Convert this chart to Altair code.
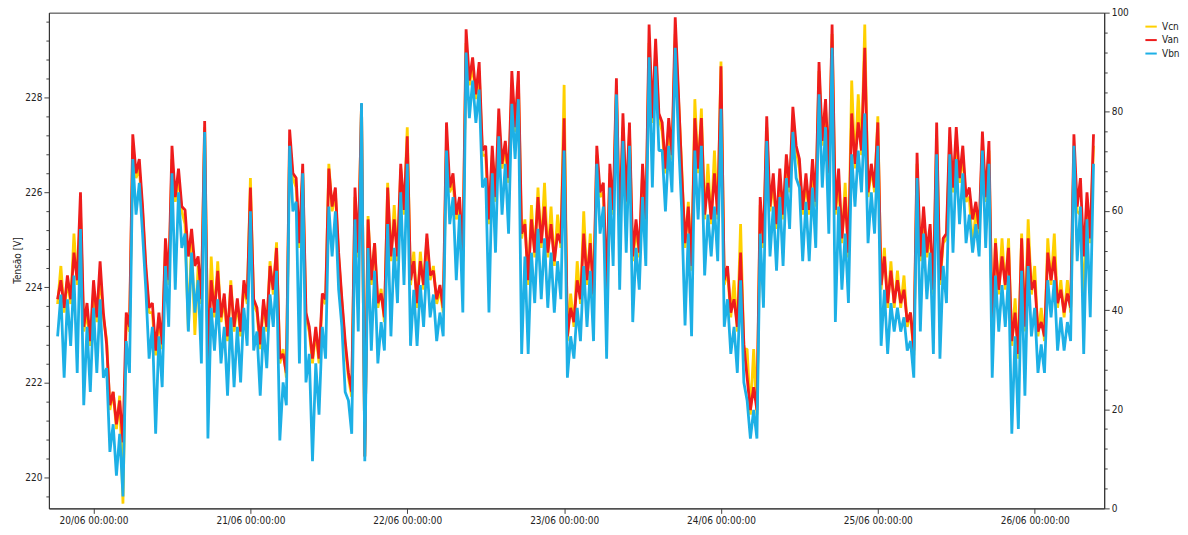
import altair as alt
import pandas as pd

# half-hour samples from 19/06 18:30 to 26/06 09:00, alternating local peak / trough
vcn = [
    223.65, 224.45, 223.47, 224.15, 223.65, 225.13, 224.05, 225.6, 223.07, 223.47, 222.77, 223.95, 223.27, 224.25, 223.37, 222.9, 221.42, 221.8, 221.02, 221.72,
    219.45, 223.37, 223.07, 226.98, 226.3, 226.5, 225.6, 224.35, 223.47, 223.47, 222.57, 223.37, 222.7, 224.85, 224.05, 226.7, 225.8, 226.3, 225.6, 225.33,
    223.1, 225.03, 223.0, 224.45, 223.65, 227.37, 222.3, 224.65, 223.37, 224.55, 223.27, 223.75, 222.87, 224.15, 223.07, 223.67, 222.97, 224.05, 223.65, 226.3,
    223.65, 223.47, 222.7, 223.67, 223.07, 224.55, 223.85, 224.95, 222.4, 222.7, 222.1, 227.08, 226.3, 226.1, 224.83, 226.4, 223.37, 223.07, 222.4, 223.07,
    222.4, 223.77, 223.65, 226.6, 225.6, 226.0, 224.63, 223.67, 222.77, 222.1, 221.7, 225.9, 224.63, 227.86, 220.44, 225.5, 224.05, 224.93, 223.57, 223.97,
    223.27, 226.2, 224.55, 225.73, 224.55, 226.5, 225.53, 227.37, 224.05, 224.75, 223.57, 224.75, 223.95, 225.03, 224.15, 224.45, 223.65, 223.95, 223.47, 227.08,
    226.0, 226.2, 225.43, 225.7, 224.55, 229.14, 228.25, 228.65, 227.96, 228.55, 226.78, 226.78, 225.33, 226.78, 225.8, 227.47, 226.5, 226.9, 226.2, 228.26,
    227.27, 228.36, 225.03, 225.43, 224.05, 225.73, 224.63, 226.1, 224.83, 226.2, 224.63, 225.7, 224.45, 225.53, 224.83, 228.26, 222.87, 223.87, 223.17, 224.55,
    223.65, 225.6, 224.05, 225.13, 223.75, 226.78, 225.9, 226.0, 223.85, 226.4, 225.53, 228.16, 225.03, 227.37, 225.7, 227.28, 224.55, 225.23, 224.63, 226.4,
    225.33, 229.14, 227.46, 228.94, 227.56, 227.28, 226.4, 227.37, 226.68, 229.33, 227.96, 226.5, 224.83, 225.8, 224.35, 227.96, 226.4, 227.76, 225.43, 226.6,
    225.33, 226.88, 225.43, 228.75, 224.05, 224.35, 223.37, 224.15, 223.07, 225.33, 222.7, 222.7, 221.32, 222.7, 221.32, 225.73, 224.83, 227.37, 225.6, 226.2,
    225.23, 226.3, 225.43, 226.6, 226.0, 227.56, 226.88, 226.5, 225.53, 226.2, 225.53, 226.5, 225.7, 228.55, 226.98, 227.76, 226.3, 229.33, 225.53, 226.2,
    224.93, 226.2, 224.63, 228.35, 226.5, 228.06, 226.78, 229.53, 225.9, 226.5, 226.0, 227.6, 223.95, 224.83, 223.57, 224.55, 223.57, 224.35, 223.57, 224.25,
    223.17, 223.47, 222.57, 226.6, 224.55, 225.53, 224.63, 225.13, 223.85, 227.18, 224.05, 224.93, 225.03, 227.08, 226.0, 227.08, 226.2, 226.78, 225.8, 225.9,
    224.8, 225.63, 225.13, 227.08, 225.8, 226.88, 223.07, 225.03, 223.85, 225.03, 223.95, 225.03, 222.77, 223.77, 222.5, 225.13, 223.07, 225.43, 223.85, 224.45,
    222.97, 223.57, 222.87, 225.03, 224.05, 225.13, 223.57, 224.15, 223.37, 224.15, 223.47, 226.7, 225.6, 225.53, 223.65, 225.7, 224.93, 226.98,
]
van = [
    223.75, 224.15, 223.57, 224.25, 223.75, 224.73, 224.15, 226.0, 223.17, 223.67, 222.87, 224.15, 223.37, 224.55, 223.47, 222.8, 221.52, 221.8, 221.12, 221.62,
    220.74, 223.47, 223.17, 227.22, 226.4, 226.7, 225.7, 224.45, 223.57, 223.67, 222.67, 223.47, 222.8, 225.03, 224.15, 226.98, 225.9, 226.5, 225.7, 225.63,
    224.65, 225.23, 224.45, 224.65, 223.75, 227.5, 222.4, 224.15, 223.47, 224.35, 223.37, 223.87, 222.97, 224.05, 223.17, 223.77, 223.07, 224.15, 223.75, 226.1,
    223.75, 223.57, 222.8, 223.75, 223.17, 224.45, 223.95, 224.83, 222.5, 222.6, 222.2, 227.32, 226.4, 226.3, 224.93, 226.6, 223.47, 223.17, 222.5, 223.17,
    222.5, 223.87, 223.75, 226.5, 225.7, 226.1, 224.73, 223.75, 222.87, 222.2, 221.8, 226.1, 224.73, 227.86, 220.44, 225.43, 224.15, 224.93, 223.67, 223.87,
    223.37, 226.1, 224.65, 225.43, 224.65, 226.6, 225.63, 227.18, 224.15, 224.55, 223.67, 224.55, 224.05, 225.13, 224.25, 224.35, 223.75, 224.05, 223.57, 227.47,
    226.1, 226.4, 225.53, 225.9, 224.65, 229.43, 228.35, 228.84, 228.06, 228.74, 226.88, 226.98, 225.43, 226.98, 225.9, 227.76, 226.6, 227.08, 226.3, 228.55,
    227.37, 228.55, 225.13, 225.33, 224.15, 225.43, 224.73, 225.9, 224.93, 225.7, 224.73, 225.33, 224.55, 225.13, 224.93, 227.56, 222.97, 223.57, 223.27, 224.15,
    223.75, 225.13, 224.15, 224.93, 223.85, 226.98, 226.0, 226.2, 223.95, 226.6, 225.63, 228.4, 225.13, 227.66, 225.8, 227.47, 224.65, 225.43, 224.73, 226.6,
    225.43, 229.53, 227.56, 229.23, 227.66, 227.47, 226.5, 227.56, 226.78, 229.68, 228.06, 226.4, 224.93, 225.7, 224.45, 227.56, 226.5, 227.56, 225.53, 226.2,
    225.43, 226.4, 225.53, 228.65, 224.15, 224.45, 223.47, 223.75, 223.17, 224.73, 222.8, 222.1, 221.42, 221.9, 221.42, 225.9, 224.93, 227.6, 225.7, 226.4,
    225.33, 226.5, 225.53, 226.8, 226.1, 227.8, 226.98, 226.7, 225.63, 226.4, 225.63, 226.7, 225.8, 228.74, 227.08, 227.96, 226.4, 229.53, 225.63, 226.5,
    225.03, 225.9, 224.73, 227.66, 226.6, 227.47, 226.88, 229.04, 226.0, 226.6, 226.1, 227.47, 224.05, 224.65, 223.67, 224.35, 223.67, 224.15, 223.67, 223.95,
    223.27, 223.47, 222.67, 226.83, 224.65, 225.7, 224.73, 225.33, 223.95, 227.47, 224.15, 225.03, 225.13, 227.37, 226.1, 227.37, 226.3, 226.98, 225.9, 226.1,
    225.43, 225.8, 225.23, 227.28, 225.9, 227.08, 223.17, 224.93, 223.95, 224.65, 224.05, 224.83, 222.87, 223.47, 222.6, 225.03, 223.17, 225.03, 223.95, 224.15,
    223.07, 223.27, 222.97, 224.73, 224.15, 224.65, 223.67, 223.95, 223.47, 223.87, 223.57, 227.22, 225.7, 226.3, 224.65, 226.0, 225.03, 227.22,
]
vbn = [
    222.97, 223.85, 222.1, 223.75, 222.77, 224.25, 222.2, 225.23, 221.52, 223.17, 221.8, 223.57, 222.2, 223.75, 222.1, 222.3, 220.54, 221.12, 220.04, 220.92,
    219.6, 222.87, 222.2, 226.7, 225.53, 226.2, 225.13, 223.95, 222.5, 223.17, 220.92, 222.97, 221.9, 224.45, 223.17, 226.4, 223.95, 226.0, 224.83, 225.13,
    223.07, 224.73, 223.47, 224.15, 222.4, 227.27, 220.82, 223.57, 222.67, 223.75, 222.4, 223.17, 221.72, 223.37, 221.9, 223.17, 222.0, 223.57, 222.77, 225.6,
    222.67, 223.07, 221.72, 223.17, 222.3, 223.85, 223.17, 224.35, 220.78, 222.0, 221.52, 226.98, 225.6, 225.8, 222.4, 226.4, 222.0, 222.6, 220.34, 222.4,
    221.32, 223.17, 222.5, 225.7, 224.65, 225.6, 223.95, 223.17, 221.8, 221.62, 220.92, 225.43, 223.07, 227.88, 220.34, 224.83, 222.67, 224.35, 222.4, 223.27,
    222.67, 225.33, 222.97, 224.83, 223.67, 226.0, 224.05, 226.6, 222.77, 223.95, 222.77, 224.05, 223.17, 224.55, 223.37, 223.85, 222.87, 223.47, 222.97, 226.88,
    225.33, 225.9, 224.15, 225.53, 223.47, 228.94, 227.56, 228.35, 227.46, 228.16, 226.1, 226.3, 223.47, 226.4, 224.73, 227.18, 225.53, 226.6, 225.13, 227.86,
    226.7, 227.96, 222.6, 224.65, 222.6, 224.73, 223.67, 225.23, 223.75, 225.03, 223.57, 224.73, 223.47, 224.55, 223.75, 226.88, 222.1, 222.97, 222.5, 223.57,
    222.87, 224.45, 223.17, 224.35, 222.87, 226.6, 225.13, 225.7, 222.5, 226.1, 224.45, 228.06, 223.95, 227.08, 224.73, 226.98, 223.27, 224.83, 223.95, 225.9,
    224.45, 228.84, 226.1, 228.65, 226.88, 226.88, 225.6, 226.98, 226.0, 229.04, 227.08, 225.6, 223.2, 225.13, 222.97, 226.88, 225.43, 226.98, 224.25, 225.53,
    224.65, 225.7, 224.55, 227.76, 223.17, 223.75, 222.6, 223.17, 222.2, 224.15, 222.0, 221.62, 220.82, 221.42, 220.82, 225.13, 223.57, 227.08, 224.65, 225.7,
    224.35, 225.9, 224.45, 226.3, 225.23, 227.27, 226.3, 226.1, 224.55, 225.8, 224.55, 226.1, 224.83, 228.06, 226.1, 227.37, 225.13, 229.04, 223.27, 225.7,
    223.95, 225.13, 223.67, 226.8, 225.7, 226.88, 226.0, 227.66, 224.93, 226.0, 225.13, 226.98, 222.77, 223.95, 222.6, 223.67, 223.07, 223.57, 223.07, 223.37,
    222.67, 222.87, 222.1, 226.3, 223.07, 225.13, 223.75, 224.73, 222.6, 226.8, 222.5, 224.45, 223.67, 226.8, 224.73, 226.7, 225.33, 226.4, 224.93, 225.53,
    224.73, 225.33, 224.65, 226.88, 224.83, 226.6, 222.1, 224.25, 223.07, 224.05, 223.17, 224.25, 220.92, 222.97, 221.02, 224.35, 221.72, 224.45, 222.97, 223.57,
    222.2, 222.8, 222.2, 224.15, 223.37, 224.15, 222.67, 223.37, 222.67, 223.27, 222.87, 226.98, 224.55, 225.7, 222.6, 225.43, 223.37, 226.6,
]

series_names = ["Vcn", "Van", "Vbn"]
series_colors = ["#FFD000", "#EE1C1C", "#1DB0E6"]

FONT = "'Liberation Sans Narrow', 'DejaVu Sans Condensed', 'Liberation Sans', sans-serif"
start = pd.Timestamp("2023-06-19 18:30")


def frame(name, values):
    t = pd.date_range(start, periods=len(values), freq="30min")
    return pd.DataFrame({"t": t, "v": values, "fase": name})


# axis tick positions (major + minor)
volt_ticks = [round(219.6 + 0.4 * i, 1) for i in range(26)]
pct_ticks = list(range(0, 101, 4))
day_ticks = [alt.DateTime(year=2023, month=6, date=d, hours=0) for d in range(20, 27)]

x_enc = alt.X(
    "t:T",
    scale=alt.Scale(domain=[alt.DateTime(year=2023, month=6, date=19, hours=17, minutes=10),
                            alt.DateTime(year=2023, month=6, date=26, hours=10, minutes=38)]),
    axis=alt.Axis(values=day_ticks, format="%d/%m %H:%M:%S", title=None, tickSize=5,
                  labelPadding=2, labelFlush=False, grid=False),
)
y_enc = alt.Y(
    "v:Q",
    scale=alt.Scale(domain=[219.35, 229.78], nice=False, zero=False),
    axis=alt.Axis(
        values=volt_ticks,
        labelExpr="abs(datum.value - 2*round(datum.value/2)) < 0.05 ? format(datum.value, 'd') : ''",
        tickSize={"condition": {"test": "abs(datum.value - 2*round(datum.value/2)) < 0.05", "value": 5}, "value": 3},
        title="Tensão [V]", titleX=-26, titleY=248, labelPadding=2, grid=False,
    ),
)
color_enc = alt.Color(
    "fase:N",
    scale=alt.Scale(domain=series_names, range=series_colors),
    legend=alt.Legend(title=None, orient="none", legendX=1098, legendY=7, symbolType="stroke",
                      symbolSize=130, symbolStrokeWidth=2, labelFontSize=10, rowPadding=1.5, padding=0),
)

layers = []
for name, values in zip(series_names, [vcn, van, vbn]):
    layers.append(
        alt.Chart(frame(name, values)).mark_line(strokeWidth=2.8, clip=True, strokeJoin="bevel").encode(
            x=x_enc, y=y_enc, color=color_enc
        )
    )
lines = alt.layer(*layers)

right = alt.Chart(pd.DataFrame({"p": [0, 100]})).mark_point(opacity=0).encode(
    y=alt.Y(
        "p:Q",
        scale=alt.Scale(domain=[0, 100], nice=False),
        axis=alt.Axis(
            orient="right", values=pct_ticks, title=None, grid=False, labelPadding=2,
            labelExpr="datum.value % 20 == 0 ? datum.value : ''",
            tickSize={"condition": {"test": "datum.value % 20 == 0", "value": 5}, "value": 3},
        ),
    )
)

chart = (
    alt.layer(lines, right)
    .resolve_scale(y="independent")
    .properties(
        width=1058,
        height=497,
        padding={"left": 41, "top": 4, "right": 76, "bottom": 16},
        autosize=alt.AutoSizeParams(type="none"),
    )
    .configure_view(stroke="#333333", strokeWidth=1)
    .configure_axis(
        labelFont=FONT, labelFontSize=10, labelColor="#222222",
        titleFont=FONT, titleFontSize=10, titleFontWeight="normal", titleColor="#222222",
        tickColor="#444444", domainColor="#333333",
    )
    .configure_legend(labelFont=FONT, labelColor="#222222")
)

chart.save("out.html", embed_options={"renderer": "svg", "actions": False})
